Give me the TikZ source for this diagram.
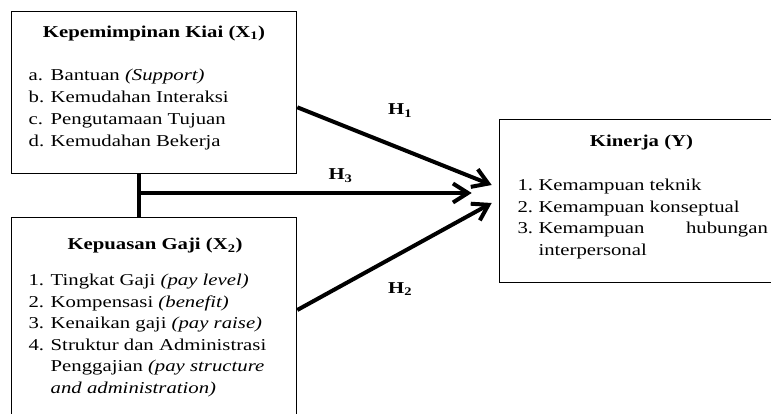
\documentclass[tikz,border=0pt]{standalone}
\usepackage{fontspec}
\setmainfont[FakeStretch=1.25]{Liberation Serif}
\usetikzlibrary{arrows.meta}
\begin{document}
\begin{tikzpicture}[x=1pt,y=-1pt,
  boxst/.style={draw, line width=1.3pt, anchor=north west, inner sep=0pt, minimum width=285pt},
  txt/.style={inner sep=0pt, anchor=base west, font=\fontsize{16.6}{20}\selectfont},
  ttl/.style={inner sep=0pt, anchor=base, font=\fontsize{16.6}{20}\selectfont\bfseries},
  conn/.style={line width=4pt},
  arr/.style={line width=4pt, -{Straight Barb[length=15pt,width=19pt]}}]
\useasboundingbox (0,0) rectangle (771,414);
\clip (0,0) rectangle (771,414);
% boxes
\node[boxst, minimum height=162pt] (b1) at (11,11) {};
\node[boxst, minimum height=223pt] (b2) at (11,217) {};
\node[boxst, minimum height=163pt] (by) at (499,119) {};
% box 1 text
\node[ttl] (t1) at (154,37.3) {Kepemimpinan Kiai (X\textsubscript{1})};
\node[txt] (a1) at (28.5,81) {a.};
\node[txt] (a2) at (50.5,81) {Bantuan \textit{(Support)}};
\node[txt] (b1l) at (28.5,102.8) {b.};
\node[txt] (b2l) at (50.5,102.8) {Kemudahan Interaksi};
\node[txt] (c1) at (28.5,124.6) {c.};
\node[txt] (c2) at (50.5,124.6) {Pengutamaan Tujuan};
\node[txt] (d1) at (28.5,146.4) {d.};
\node[txt] (d2) at (50.5,146.4) {Kemudahan Bekerja};
% box 2 text
\node[ttl] (t2) at (155,249.5) {Kepuasan Gaji (X\textsubscript{2})};
\node[txt] (n1) at (28.3,285.7) {1.};
\node[txt] (m1) at (50.5,285.7) {Tingkat Gaji \textit{(pay level)}};
\node[txt] (n2) at (28.3,307.2) {2.};
\node[txt] (m2) at (50.5,307.2) {Kompensasi \textit{(benefit)}};
\node[txt] (n3) at (28.3,328.7) {3.};
\node[txt] (m3) at (50.5,328.7) {Kenaikan gaji \textit{(pay raise)}};
\node[txt] (n4) at (28.3,350.2) {4.};
\node[txt] (m4) at (50.5,350.2) {Struktur dan Administrasi};
\node[txt] (m5) at (50.5,371.7) {Penggajian \textit{(pay structure}};
\node[txt] (m6) at (50.5,393.2) {\textit{and administration)}};
% box Y text
\node[ttl] (ty) at (641.5,146.7) {Kinerja (Y)};
\node[txt] (y1) at (517.3,190.7) {1.};
\node[txt] (z1) at (538.3,190.7) {Kemampuan teknik};
\node[txt] (y2) at (517.3,212.2) {2.};
\node[txt] (z2) at (538.3,212.2) {Kemampuan konseptual};
\node[txt] (y3) at (517.3,233.7) {3.};
\node[txt] (z3) at (538.3,233.7) {\makebox[229.4pt][s]{Kemampuan\hfill hubungan}};
\node[txt] (z4) at (538.3,255.2) {interpersonal};
% connectors
\coordinate (j) at (139,193);
\coordinate (e1) at (491.7,185);
\coordinate (e3) at (471.7,193);
\coordinate (e2) at (491.7,203);
\coordinate (s1) at (b1.east |- 0,107.3);
\coordinate (s2) at (b2.east |- 0,310);
\draw[conn] (j |- b1.south) -- (j |- b2.north);
\draw[arr] ([xshift=-2pt]j) -- (e3);
\draw[arr] (s1) -- (e1);
\draw[arr] (s2) -- (e2);
% labels
\node[ttl, anchor=base west] (h1) at (388,115) {H\textsubscript{1}};
\node[ttl, anchor=base west] (h3) at (328.3,180) {H\textsubscript{3}};
\node[ttl, anchor=base west] (h2) at (388,293.3) {H\textsubscript{2}};
\end{tikzpicture}
\end{document}
